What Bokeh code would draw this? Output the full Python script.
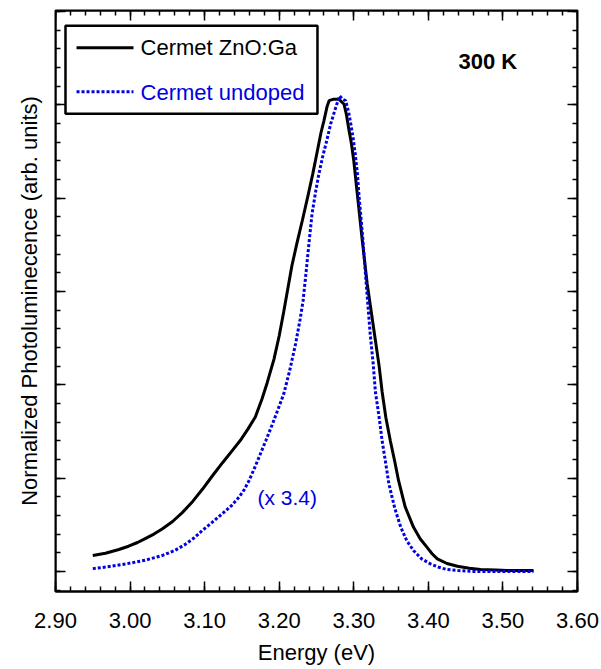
from bokeh.plotting import figure
from bokeh.models import (Range1d, LinearAxis, SingleIntervalTicker, CustomJSTickFormatter,
                          NumeralTickFormatter, Label, BoxAnnotation, ColumnDataSource, Title)
from bokeh.embed import file_html
from bokeh.resources import INLINE

# ---- data ----
doped_energy = [2.950, 2.967, 2.985, 2.998, 3.010, 3.021, 3.032, 3.043, 3.057, 3.070,
                3.084, 3.097, 3.110, 3.124, 3.137, 3.148, 3.158, 3.168, 3.177, 3.184,
                3.193, 3.200, 3.206, 3.212, 3.217, 3.224, 3.231, 3.238, 3.245, 3.251,
                3.256, 3.260, 3.264, 3.267, 3.273, 3.280, 3.287, 3.290, 3.293, 3.297,
                3.300, 3.305, 3.311, 3.318, 3.324, 3.329, 3.334, 3.338, 3.343, 3.349,
                3.355, 3.360, 3.369, 3.380, 3.389, 3.398, 3.405, 3.412, 3.425, 3.439,
                3.455, 3.470, 3.490, 3.506, 3.541]
doped_pl = [0.034, 0.039, 0.047, 0.054, 0.062, 0.071, 0.080, 0.091, 0.107, 0.126,
            0.150, 0.176, 0.204, 0.233, 0.259, 0.281, 0.305, 0.331, 0.370, 0.405,
            0.455, 0.505, 0.556, 0.610, 0.655, 0.705, 0.752, 0.801, 0.852, 0.900,
            0.940, 0.966, 0.995, 1.009, 1.012, 1.012, 1.001, 0.980, 0.951, 0.915,
            0.880, 0.805, 0.715, 0.616, 0.550, 0.495, 0.440, 0.385, 0.330, 0.280,
            0.235, 0.195, 0.138, 0.095, 0.070, 0.052, 0.038, 0.027, 0.017, 0.011,
            0.007, 0.004, 0.003, 0.002, 0.002]

undoped_energy = [2.950, 2.970, 2.994, 3.020, 3.043, 3.060, 3.074, 3.086, 3.097, 3.110,
                  3.124, 3.136, 3.146, 3.153, 3.159, 3.166, 3.173, 3.182, 3.191, 3.199,
                  3.206, 3.214, 3.222, 3.228, 3.232, 3.235, 3.238, 3.241, 3.244, 3.249,
                  3.253, 3.258, 3.264, 3.269, 3.274, 3.278, 3.281, 3.285, 3.289, 3.293,
                  3.296, 3.299, 3.302, 3.305, 3.307, 3.312, 3.316, 3.319, 3.322, 3.326,
                  3.329, 3.334, 3.338, 3.343, 3.347, 3.355, 3.363, 3.371, 3.380, 3.391,
                  3.403, 3.414, 3.425, 3.440, 3.461, 3.500, 3.541]
undoped_pl = [0.006, 0.010, 0.016, 0.024, 0.034, 0.045, 0.058, 0.072, 0.088, 0.105,
              0.124, 0.141, 0.159, 0.175, 0.193, 0.218, 0.245, 0.280, 0.316, 0.350,
              0.380, 0.430, 0.488, 0.540, 0.580, 0.625, 0.673, 0.720, 0.766, 0.815,
              0.850, 0.887, 0.925, 0.959, 0.985, 1.005, 1.019, 1.012, 1.009, 0.985,
              0.959, 0.930, 0.894, 0.850, 0.805, 0.715, 0.630, 0.570, 0.509, 0.445,
              0.385, 0.330, 0.280, 0.230, 0.188, 0.135, 0.095, 0.066, 0.045, 0.027,
              0.016, 0.009, 0.004, 0.002, 0.000, 0.000, 0.000]

series_names = ["Cermet ZnO:Ga", "Cermet undoped"]
x_title = "Energy (eV)"
y_title = "Normalized Photoluminecence (arb. units)"
scale_note = "(x 3.4)"
temperature_note = "300 K"

FONT = "Liberation Sans"
BLUE = "#0000e0"

X0, X1 = 2.90, 3.60
Y0, Y1 = -0.043, 1.202

p = figure(width=601, height=669, output_backend="svg", toolbar_location=None,
           x_range=Range1d(X0, X1), y_range=Range1d(Y0, Y1),
           min_border_left=55, min_border_right=24, min_border_top=10, min_border_bottom=78,
           x_axis_location=None, y_axis_location=None)
p.background_fill_color = "white"
p.border_fill_color = "white"
p.outline_line_color = "black"
p.outline_line_width = 2
p.xgrid.visible = False
p.ygrid.visible = False

def style_axis(ax, ticker, labels=True):
    ax.ticker = ticker
    ax.axis_line_color = "black"
    ax.axis_line_width = 2
    ax.major_tick_in = 10
    ax.major_tick_out = 0
    ax.minor_tick_in = 5
    ax.minor_tick_out = 0
    ax.major_tick_line_width = 1.5
    ax.minor_tick_line_width = 1.5
    ax.major_tick_line_color = "black"
    ax.minor_tick_line_color = "black"
    ax.major_label_text_font = FONT
    ax.major_label_text_font_size = "22px"
    ax.major_label_text_color = "black"
    if not labels:
        ax.formatter = CustomJSTickFormatter(code="return ''")
        ax.major_label_standoff = 0

xb = LinearAxis()
style_axis(xb, SingleIntervalTicker(interval=0.1, num_minor_ticks=5))
xb.formatter = NumeralTickFormatter(format="0.00")
xb.major_label_standoff = 21
xb.axis_label = x_title
xb.axis_label_text_font = FONT
xb.axis_label_text_font_size = "22px"
xb.axis_label_text_font_style = "normal"
xb.axis_label_text_color = "black"
xb.axis_label_standoff = 9
p.add_layout(xb, "below")

xt = LinearAxis(fixed_location=Y1)
style_axis(xt, SingleIntervalTicker(interval=0.1, num_minor_ticks=5), labels=False)
p.add_layout(xt, "above")

yl = LinearAxis(fixed_location=X0)
style_axis(yl, SingleIntervalTicker(interval=0.2, num_minor_ticks=5), labels=False)
p.add_layout(yl, "left")

p.add_layout(Title(text=y_title, align="center", text_font=FONT, text_font_size="22px",
                   text_font_style="normal", text_color="black", standoff=28), "left")

yr = LinearAxis(fixed_location=X1)
style_axis(yr, SingleIntervalTicker(interval=0.2, num_minor_ticks=5), labels=False)
p.add_layout(yr, "right")

src_d = ColumnDataSource(dict(x=doped_energy, y=doped_pl))
src_u = ColumnDataSource(dict(x=undoped_energy, y=undoped_pl))
p.line("x", "y", source=src_d, line_color="black", line_width=3)
p.line("x", "y", source=src_u, line_color=BLUE, line_width=3, line_dash="3 2")

# legend (drawn by hand so each label keeps its own colour)
p.add_layout(BoxAnnotation(left=2.9134, right=3.2513, bottom=0.9807, top=1.1692,
                           fill_color="white", fill_alpha=1.0, line_alpha=1.0,
                           line_color="black", line_width=2.5, level="underlay"))
p.segment(x0=[2.9282], x1=[3.0046], y0=[1.1221], y1=[1.1221], line_color="black", line_width=3)
p.segment(x0=[2.9282], x1=[3.0046], y0=[1.0278], y1=[1.0278], line_color=BLUE, line_width=3,
          line_dash="3 2")
p.add_layout(Label(x=3.0140, y=1.1221, text=series_names[0], text_font=FONT,
                   text_font_size="22px", text_color="black", text_baseline="middle"))
p.add_layout(Label(x=3.0140, y=1.0257, text=series_names[1], text_font=FONT,
                   text_font_size="22px", text_color=BLUE, text_baseline="middle"))

p.add_layout(Label(x=3.4404, y=1.0921, text=temperature_note, text_font=FONT,
                   text_font_size="22px", text_font_style="bold", text_color="black",
                   text_baseline="middle"))
p.add_layout(Label(x=3.1709, y=0.1585, text=scale_note, text_font=FONT,
                   text_font_size="21px", text_color=BLUE, text_baseline="middle"))

open("out.html", "w").write(file_html(p, INLINE))
